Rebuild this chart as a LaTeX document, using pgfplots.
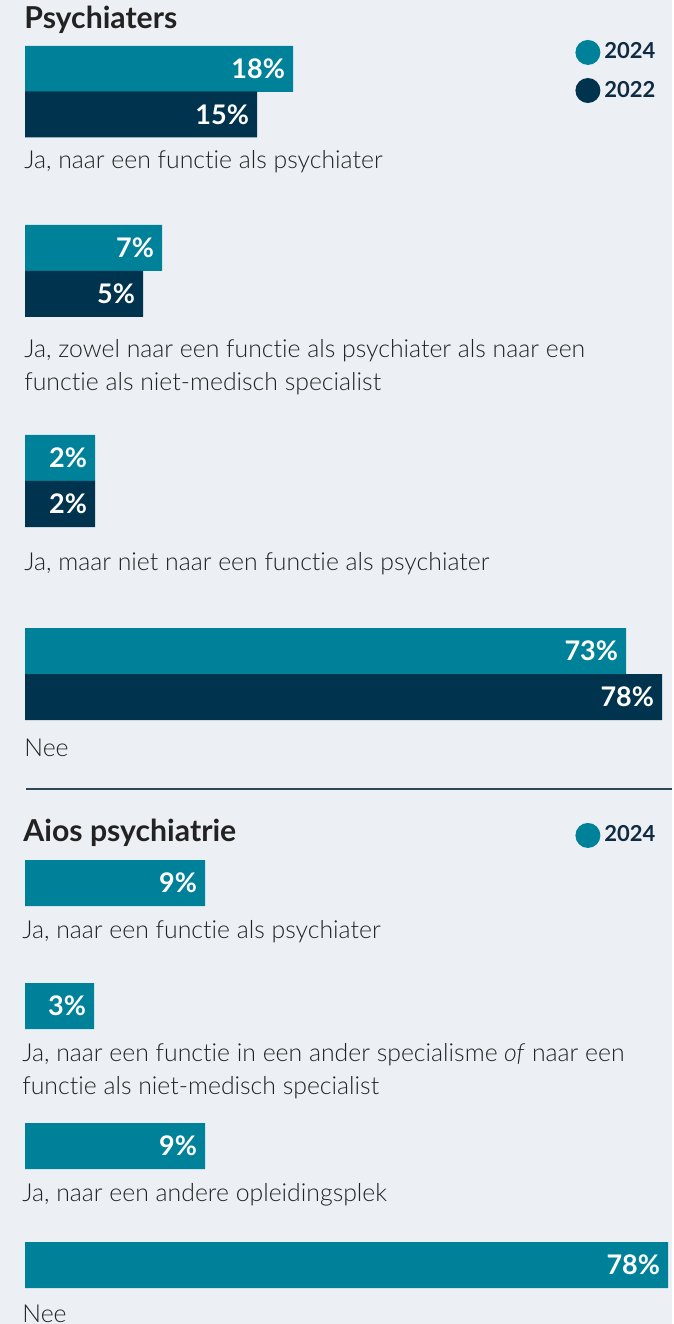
\documentclass[border=0pt]{standalone}
\usepackage{pgfplots}
\pgfplotsset{compat=1.18}
\usepackage{pgfplotstable}
\usepackage{fontspec}
\setmainfont{Lato}[Ligatures=NoCommon]
\newfontfamily\lightfont{Lato Light}[Ligatures=NoCommon]

\definecolor{bg}{HTML}{ECF0F5}
\definecolor{teal24}{HTML}{00819A}
\definecolor{navy22}{HTML}{00334D}
\definecolor{ink}{HTML}{222222}
\definecolor{legink}{HTML}{0E2B42}
\definecolor{rulecol}{HTML}{2F4858}

% y = bar centre (px from top), len = drawn bar length (px), pct = label
\pgfplotstableread{
y     len pct
69    268 18
248   137 7
458   70  2
651   601 73
}\psyA
\pgfplotstableread{
y     len pct
114.5 232 15
294   118 5
504   70  2
697   637 78
}\psyB
\pgfplotstableread{
y     len pct
883   180 9
1006  69  3
1146  180 9
1265  643 78
}\aiosA

\pgfplotsset{
  canvas/.style={
    width=336pt, height=662pt, scale only axis,
    xmin=-25, xmax=647, ymin=0, ymax=1324, y dir=reverse,
    axis line style={draw=none}, xtick=\empty, ytick=\empty,
    clip=false,
    /pgf/number format/assume math mode=true,
    legend style={draw=none, fill=none, inner sep=0pt, anchor=north west,
      font=\bfseries\fontsize{11}{12}\selectfont, text=legink,
      row sep=5.5pt, legend cell align=left},
  },
  bars/.style={
    xbar, bar width=46, bar shift=0pt, draw=none,
    legend image code/.code={\fill (0pt,0pt) circle (6.25pt);},
    point meta=explicit,
    nodes near coords={\pgfmathprintnumber{\pgfplotspointmeta}\%},
    every node near coord/.append style={anchor=east, xshift=-0.5pt,
      text=white, font=\bfseries\fontsize{13.5}{15}\selectfont},
  },
}
\tikzset{
  lab/.style={anchor=base west, inner sep=0pt, text=ink,
    font=\lightfont\fontsize{12.4}{14}\selectfont},
  ttl/.style={anchor=base west, inner sep=0pt, text=ink,
    font=\bfseries\fontsize{15.1}{17}\selectfont},
}

\begin{document}
\begin{tikzpicture}
\begin{axis}[canvas, axis background/.style={fill=bg},
  legend style={at={(axis cs:550,38.5)}}]
\addplot[bars, fill=teal24] table[x=len, y=y, meta=pct] {\psyA};
\addlegendentry{2024}
\addplot[bars, fill=navy22] table[x=len, y=y, meta=pct] {\psyB};
\addlegendentry{2022}

\node[ttl] at (axis cs:-1,29) {Psychiaters};
\node[lab] at (axis cs:-1,169) {Ja, naar een functie als psychiater};
\node[lab] at (axis cs:-1,358) {Ja, zowel naar een functie als psychiater als naar een};
\node[lab] at (axis cs:-1,391) {functie als niet-medisch specialist};
\node[lab] at (axis cs:-1,570) {Ja, maar niet naar een functie als psychiater};
\node[lab] at (axis cs:-1,756) {Nee};
\draw[rulecol, line width=1pt] (axis cs:1,789) -- (axis cs:647,789);
\end{axis}

\begin{axis}[canvas, legend style={at={(axis cs:550,821.5)}}]
\addplot[bars, fill=teal24] table[x=len, y=y, meta=pct] {\aiosA};
\addlegendentry{2024}

\node[ttl] at (axis cs:-2,841) {Aios psychiatrie};
\node[lab] at (axis cs:-3,938) {Ja, naar een functie als psychiater};
\node[lab] at (axis cs:-3,1061) {Ja, naar een functie in een ander specialisme \textit{of} naar een};
\node[lab] at (axis cs:-3,1094) {functie als niet-medisch specialist};
\node[lab] at (axis cs:-3,1201) {Ja, naar een andere opleidingsplek};
\node[lab] at (axis cs:-3,1322) {Nee};
\end{axis}
\end{tikzpicture}
\end{document}
